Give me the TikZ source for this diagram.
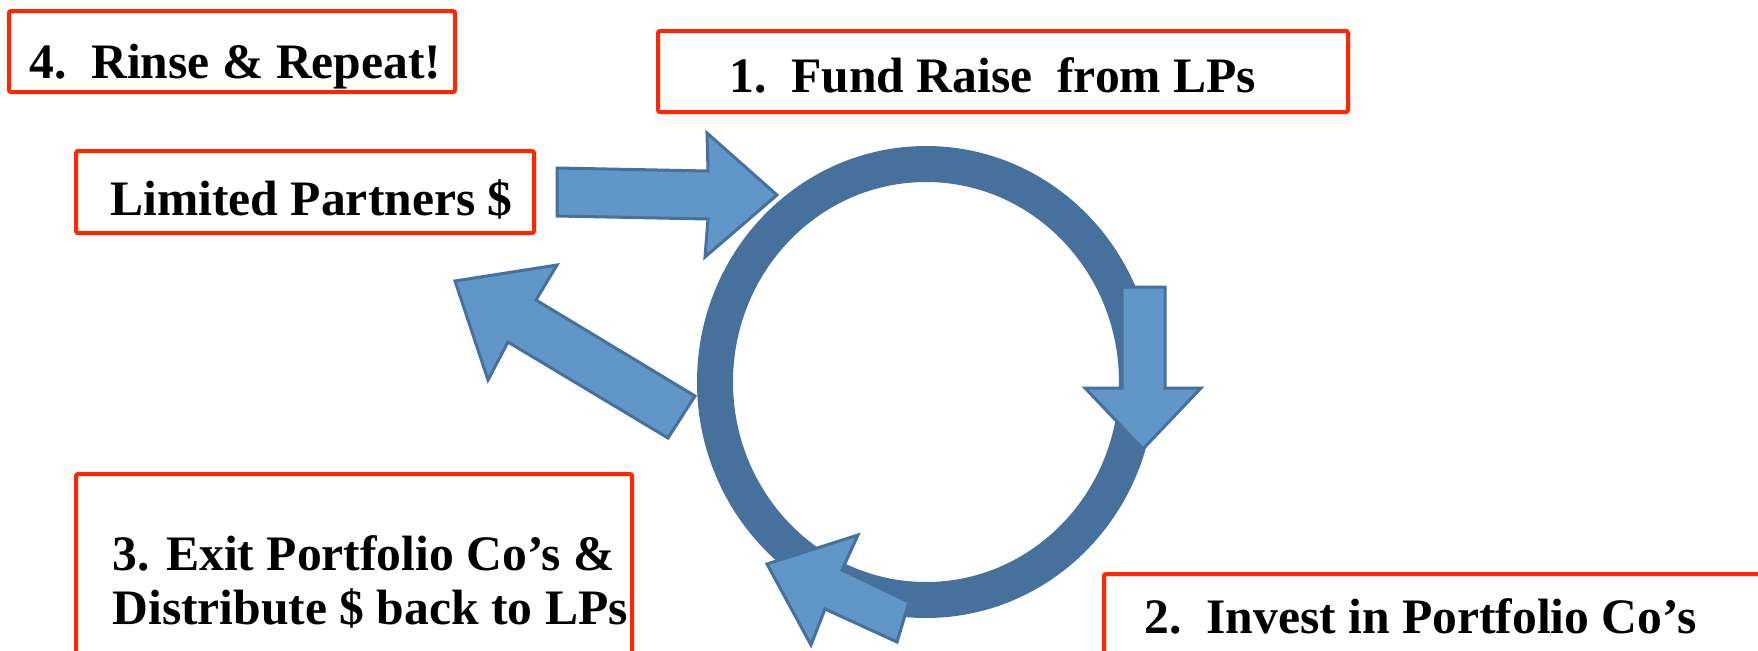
\documentclass[tikz,border=0pt]{standalone}
\usepackage{fontspec}
\setmainfont{Liberation Serif}
\definecolor{boxred}{RGB}{255,38,0}
\definecolor{ringblue}{RGB}{70,113,156}
\definecolor{arrfill}{RGB}{97,150,200}
\begin{document}
\begin{tikzpicture}[x=0.5pt,y=-0.5pt,
  redbox/.style={draw=boxred, line width=2pt, rounded corners=1pt},
  lbl/.style={anchor=base west, inner sep=0pt, font=\fontsize{24.8}{30}\selectfont\bfseries},
  blockarrow/.style={fill=arrfill, draw=ringblue, line width=1.5pt, line join=miter}]
\useasboundingbox (0,0) rectangle (1758,650);
\fill[white] (0,0) rectangle (1758,650);
\clip (0,0) rectangle (1758,650);

% boxes
\draw[redbox] (9,11) rectangle (455,92);
\node[lbl] (t4) at (29,78) {4.\ \ Rinse \& Repeat!};
\draw[redbox] (658,31) rectangle (1348,112);
\node[lbl] (t1) at (729,92) {1.\ \ Fund Raise\ \ from LPs};
\draw[redbox] (76,151) rectangle (534,233);
\node[lbl] (tlp) at (110,215) {Limited Partners \$};
\draw[redbox] (76,474) rectangle (632,720);
\node[lbl] (t3a) at (112,570) {3. Exit Portfolio Co’s \&};
\node[lbl] (t3b) at (112,624) {Distribute \$ back to LPs};
\draw[redbox] (1104,574) rectangle (1820,720);
\node[lbl] (t2) at (1144,633) {2.\ \ Invest in Portfolio Co’s};

% ring
\draw[ringblue, line width=18pt] (926,382) ellipse [x radius=211, y radius=218];

% block arrows
\draw[blockarrow] (557,168) -- (708,171) -- (707,133) -- (777,195) -- (705,257) -- (708,219) -- (557,216) -- cycle;
\draw[blockarrow] (695,396) -- (536,300) -- (557,265) -- (455,281) -- (488,380) -- (508,342) -- (668,438) -- cycle;
\draw[blockarrow] (1122,287) -- (1165,287) -- (1165,388) -- (1201,388) -- (1143,449) -- (1085,388) -- (1122,388) -- cycle;
\draw[blockarrow] (909,602) -- (842,570) -- (858,535) -- (767,564) -- (811,645) -- (825,609) -- (897,642) -- cycle;
\end{tikzpicture}
\end{document}
